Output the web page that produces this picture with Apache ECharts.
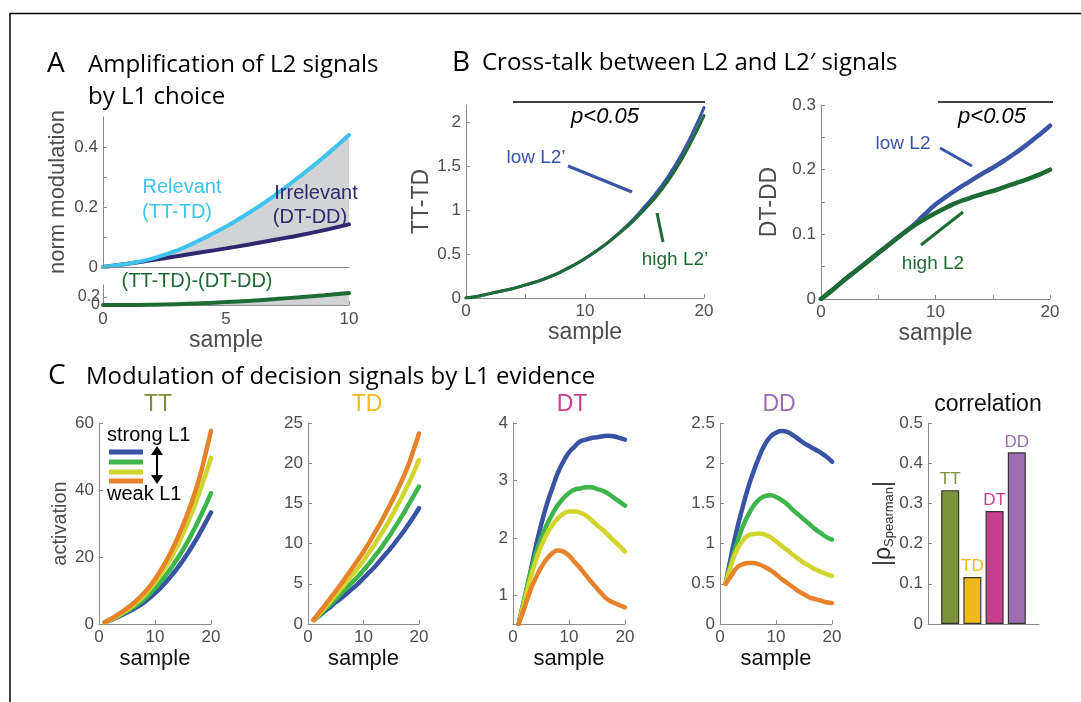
<!DOCTYPE html>
<html>
<head>
<meta charset="utf-8">
<script src="https://cdn.jsdelivr.net/npm/echarts@6/dist/echarts.min.js"></script>
<style>
html, body { margin: 0; padding: 0; background: #fff; }
#main { width: 1081px; height: 702px; }
</style>
</head>
<body>
<div id="main"></div>
<script>
// ---- panel A: amplification of L2 signals ----
var sampleA = [0, 1, 2, 3, 4, 5, 6, 7, 8, 9, 10];
var relevant = [0, 0.011, 0.028, 0.055, 0.092, 0.135, 0.184, 0.240, 0.302, 0.368, 0.440];
var irrelevant = [0, 0.011, 0.023, 0.036, 0.049, 0.062, 0.076, 0.091, 0.106, 0.123, 0.142];

// ---- panel B: cross-talk ----
var sampleB = [0, 1, 2, 3, 4, 5, 6, 7, 8, 9, 10, 11, 12, 13, 14, 15, 16, 17, 18, 19, 20];
var ttTdLowL2 = [0, 0.02, 0.05, 0.08, 0.11, 0.15, 0.19, 0.24, 0.30, 0.37, 0.45, 0.54, 0.64, 0.76, 0.89, 1.04, 1.20, 1.39, 1.61, 1.87, 2.17];
var ttTdHighL2 = [0, 0.02, 0.05, 0.08, 0.11, 0.15, 0.19, 0.24, 0.30, 0.37, 0.45, 0.54, 0.64, 0.75, 0.87, 1.01, 1.16, 1.34, 1.55, 1.80, 2.08];
var dtDdLowL2 = [0, 0.014, 0.029, 0.043, 0.057, 0.071, 0.085, 0.099, 0.113, 0.130, 0.146, 0.159, 0.171, 0.182, 0.193, 0.203, 0.214, 0.226, 0.239, 0.253, 0.268];
var dtDdHighL2 = [0, 0.014, 0.029, 0.043, 0.057, 0.071, 0.085, 0.099, 0.112, 0.123, 0.133, 0.142, 0.150, 0.156, 0.162, 0.167, 0.173, 0.179, 0.185, 0.192, 0.200];

// ---- panel C: activation by L1 evidence (strong -> weak) ----
var sampleC = [1, 2, 3, 4, 5, 6, 7, 8, 9, 10, 11, 12, 13, 14, 15, 16, 17, 18, 19, 20];
var ttStrong = [0.5, 1.1, 1.8, 2.6, 3.4, 4.3, 5.3, 6.4, 7.7, 9.2, 10.8, 12.6, 14.6, 16.7, 19.0, 21.5, 24.2, 27.1, 30.2, 33.3];
var ttMidStrong = [0.5, 1.2, 2.0, 2.9, 3.8, 4.9, 6.0, 7.3, 8.9, 10.7, 12.6, 14.7, 17.0, 19.5, 22.2, 25.1, 28.3, 31.7, 35.3, 39.1];
var ttMidWeak = [0.5, 1.2, 2.1, 3.1, 4.2, 5.4, 6.8, 8.4, 10.3, 12.4, 14.7, 17.3, 20.2, 23.4, 26.9, 30.8, 35.0, 39.6, 44.5, 49.6];
var ttWeak = [0.5, 1.4, 2.4, 3.5, 4.7, 6.0, 7.5, 9.2, 11.1, 13.4, 16.0, 18.8, 22.0, 25.6, 29.5, 33.8, 38.6, 44.0, 50.6, 57.7];

var tdStrong = [0.5, 1.0, 1.6, 2.1, 2.7, 3.2, 3.8, 4.4, 5.0, 5.7, 6.4, 7.1, 7.9, 8.7, 9.5, 10.4, 11.3, 12.3, 13.3, 14.4];
var tdMidStrong = [0.5, 1.1, 1.8, 2.4, 3.1, 3.8, 4.5, 5.2, 5.9, 6.7, 7.5, 8.4, 9.3, 10.3, 11.3, 12.4, 13.5, 14.7, 15.9, 17.1];
var tdMidWeak = [0.5, 1.2, 2.0, 2.8, 3.6, 4.4, 5.3, 6.1, 7.0, 7.9, 8.9, 9.9, 11.0, 12.1, 13.3, 14.6, 15.9, 17.3, 18.8, 20.4];
var tdWeak = [0.5, 1.4, 2.3, 3.2, 4.1, 5.0, 6.0, 7.0, 8.0, 9.0, 10.1, 11.3, 12.5, 13.8, 15.1, 16.5, 18.0, 19.6, 21.6, 23.7];

var dtStrong = [0.5, 0.91, 1.35, 1.82, 2.22, 2.57, 2.86, 3.13, 3.33, 3.49, 3.59, 3.68, 3.71, 3.74, 3.75, 3.77, 3.78, 3.77, 3.74, 3.71];
var dtMidStrong = [0.5, 0.93, 1.35, 1.70, 1.99, 2.22, 2.41, 2.57, 2.69, 2.78, 2.84, 2.86, 2.88, 2.88, 2.85, 2.82, 2.77, 2.70, 2.63, 2.56];
var dtMidWeak = [0.5, 0.88, 1.26, 1.58, 1.85, 2.06, 2.22, 2.34, 2.42, 2.46, 2.46, 2.44, 2.39, 2.31, 2.22, 2.14, 2.05, 1.95, 1.86, 1.76];
var dtWeak = [0.5, 0.77, 1.06, 1.29, 1.48, 1.63, 1.73, 1.78, 1.76, 1.69, 1.58, 1.47, 1.35, 1.23, 1.12, 1.01, 0.92, 0.87, 0.83, 0.79];

var ddStrong = [0.5, 0.85, 1.17, 1.44, 1.69, 1.90, 2.08, 2.23, 2.33, 2.38, 2.40, 2.39, 2.35, 2.30, 2.25, 2.21, 2.17, 2.13, 2.08, 2.02];
var ddMidStrong = [0.5, 0.77, 1.00, 1.20, 1.35, 1.47, 1.55, 1.59, 1.60, 1.58, 1.54, 1.49, 1.42, 1.36, 1.30, 1.24, 1.18, 1.13, 1.08, 1.05];
var ddMidWeak = [0.5, 0.73, 0.92, 1.03, 1.10, 1.12, 1.125, 1.11, 1.08, 1.03, 0.97, 0.92, 0.86, 0.81, 0.76, 0.72, 0.68, 0.65, 0.62, 0.60];
var ddWeak = [0.5, 0.60, 0.70, 0.74, 0.76, 0.76, 0.74, 0.71, 0.67, 0.62, 0.56, 0.51, 0.46, 0.41, 0.37, 0.33, 0.31, 0.29, 0.27, 0.26];

// ---- correlation bars ----
var corrCategories = ['TT', 'TD', 'DT', 'DD'];
var corrValues = [0.333, 0.117, 0.281, 0.427];

// ---- styles ----
var family = '"Liberation Sans", Arial, sans-serif';
var titleFamily = '"Open Sans", sans-serif';
var grey = '#8a8a8a';
var tickText = '#4d4d4d';
var levelColors = ['#3853a4', '#3db54a', '#d0d52b', '#e8822a'];
var catColors = ['#7b913a', '#f0ba1c', '#c83f8f', '#9c6db2'];
var lightBlue = '#3fc2f0', navy = '#2f2870', darkGreen = '#1e6b36', bBlue = '#3a55a6';
var bandGrey = '#d1d3d5';

function pairs(xs, ys) {
    return xs.map(function(x, i) { return [x, ys[i]]; });
}

function merge(a, b) {
    for (var k in b) {
        if (b[k] && typeof b[k] === 'object' && !Array.isArray(b[k]) && a[k] && typeof a[k] === 'object') {
            a[k] = merge(Object.assign({}, a[k]), b[k]);
        } else {
            a[k] = b[k];
        }
    }
    return a;
}

function axis(gridIndex, extra) {
    return merge({
        gridIndex: gridIndex,
        type: 'value',
        axisLine: { show: true, onZero: false, lineStyle: { color: grey, width: 1 } },
        axisTick: { show: true, inside: true, length: 4, lineStyle: { color: grey } },
        axisLabel: { color: tickText, fontSize: 17, fontFamily: family, margin: 5, showMinLabel: true, showMaxLabel: true },
        splitLine: { show: false },
        nameLocation: 'middle',
        nameTextStyle: { fontFamily: family, fontSize: 23, color: tickText }
    }, extra || {});
}

function line(idx, xs, ys, color, width, extra) {
    return merge({
        type: 'line',
        xAxisIndex: idx,
        yAxisIndex: idx,
        data: pairs(xs, ys),
        smooth: true,
        symbol: 'none',
        silent: true,
        lineStyle: { color: color, width: width, cap: 'round' }
    }, extra || {});
}

function txt(s, x, y, size, color, extra) {
    return {
        type: 'text', x: x, y: y, z: 100, silent: true,
        style: merge({
            text: s,
            font: size + 'px ' + family,
            fill: color,
            textAlign: 'center',
            textVerticalAlign: 'middle'
        }, extra || {})
    };
}

function seg(x1, y1, x2, y2, color, width) {
    return {
        type: 'line', silent: true, z: 100,
        shape: { x1: x1, y1: y1, x2: x2, y2: y2 },
        style: { stroke: color, lineWidth: width }
    };
}

var myChart = echarts.init(document.getElementById('main'), null, { renderer: 'canvas' });

var grids = [
    { left: 103, top: 117, width: 246, height: 150 },
    { left: 103, top: 285, width: 246, height: 20 },
    { left: 466, top: 105, width: 238, height: 193 },
    { left: 821, top: 105, width: 229, height: 194 },
    { left: 99, top: 423, width: 112, height: 201 },
    { left: 308, top: 423, width: 111, height: 201 },
    { left: 513, top: 423, width: 112, height: 201 },
    { left: 720, top: 423, width: 112, height: 201 },
    { left: 928, top: 423, width: 111, height: 201 }
];

var sampleNameC = { name: 'sample', nameGap: 24, nameTextStyle: { color: '#111', fontSize: 22 } };
var xEvery10 = { min: 0, max: 20, interval: 5, axisLabel: { formatter: function(v) { return v % 10 === 0 ? String(v) : ''; } } };

var xAxes = [
    axis(0, { min: 0, max: 10, z: 10, axisLabel: { show: false }, axisTick: { show: false } }),
    axis(1, { min: 0, max: 10, interval: 5, axisLabel: { margin: 6 }, name: 'sample', nameGap: 18 }),
    axis(2, merge({ name: 'sample', nameGap: 18 }, xEvery10)),
    axis(3, merge({ name: 'sample', nameGap: 18 }, xEvery10)),
    axis(4, merge({ min: 0, max: 20, interval: 10 }, sampleNameC)),
    axis(5, merge({ min: 0, max: 20, interval: 10 }, sampleNameC)),
    axis(6, merge({ min: 0, max: 20, interval: 10 }, sampleNameC)),
    axis(7, merge({ min: 0, max: 20, interval: 10 }, sampleNameC)),
    axis(8, { min: 0, max: 5, axisLabel: { show: false }, axisTick: { show: false } })
];

var yAxes = [
    axis(0, { min: 0, max: 0.5, z: 10, axisLabel: { customValues: [0, 0.2, 0.4] }, axisTick: { customValues: [0, 0.1, 0.2, 0.3, 0.4] },
        name: 'norm modulation', nameGap: 34, nameTextStyle: { fontSize: 22 } }),
    axis(1, { min: 0, max: 0.5, position: 'left', axisLabel: { customValues: [0], margin: 3, fontSize: 16 }, axisTick: { customValues: [0, 0.2] } }),
    axis(2, { min: 0, max: 2.2, axisLabel: { customValues: [0, 0.5, 1, 1.5, 2] }, axisTick: { customValues: [0, 0.5, 1, 1.5, 2] },
        name: 'TT-TD', nameGap: 32 }),
    axis(3, { min: 0, max: 0.3, axisLabel: { customValues: [0, 0.1, 0.2, 0.3] }, axisTick: { customValues: [0, 0.05, 0.1, 0.15, 0.2, 0.25, 0.3] },
        name: 'DT-DD', nameGap: 40 }),
    axis(4, { min: 0, max: 60, interval: 20, name: 'activation', nameGap: 29, nameTextStyle: { fontSize: 20 } }),
    axis(5, { min: 0, max: 25, interval: 5 }),
    axis(6, { min: 0.5, max: 4, axisLabel: { customValues: [1, 2, 3, 4] }, axisTick: { customValues: [1, 2, 3, 4] } }),
    axis(7, { min: 0, max: 2.5, interval: 0.5 }),
    axis(8, { min: 0, max: 0.5, interval: 0.1, name: '|ρ{s|Spearman}|', nameGap: 24,
        nameTextStyle: { fontSize: 23, color: '#333', rich: { s: { fontSize: 13, fontFamily: family, color: '#333', padding: [10, 0, 0, 0] } } } }),
    // second left axis on the small difference panel carrying only the 0.2 label (avoids label-overlap hiding)
    axis(1, { min: 0, max: 0.5, position: 'left', offset: 0, axisLine: { show: false }, axisTick: { show: false },
        axisLabel: { customValues: [0.2], margin: 3, fontSize: 16 } })
];

var series = [];

// panel A: grey band between relevant and irrelevant (grey under relevant, white under irrelevant)
series.push(line(0, sampleA, relevant, bandGrey, 0, { z: 2, lineStyle: { opacity: 0 }, areaStyle: { color: bandGrey, opacity: 1 } }));
series.push(line(0, sampleA, irrelevant, '#fff', 0, { z: 3, lineStyle: { opacity: 0 }, areaStyle: { color: '#fff', opacity: 1 } }));
series.push(line(0, sampleA, irrelevant, navy, 4, { z: 4 }));
series.push(line(0, sampleA, relevant, lightBlue, 4, { z: 5 }));
series.push(line(1, sampleA, relevant.map(function(v, i) { return v - irrelevant[i]; }), darkGreen, 4,
    { areaStyle: { color: bandGrey, opacity: 1 } }));

// panel B
series.push(line(2, sampleB, ttTdLowL2, bBlue, 3));
series.push(line(2, sampleB, ttTdHighL2, darkGreen, 3));
series.push(line(3, sampleB, dtDdLowL2, bBlue, 4.5));
series.push(line(3, sampleB, dtDdHighL2, darkGreen, 4.5));

// panel C
[[ttStrong, ttMidStrong, ttMidWeak, ttWeak],
 [tdStrong, tdMidStrong, tdMidWeak, tdWeak],
 [dtStrong, dtMidStrong, dtMidWeak, dtWeak],
 [ddStrong, ddMidStrong, ddMidWeak, ddWeak]].forEach(function(group, g) {
    group.forEach(function(ys, k) {
        series.push(line(4 + g, sampleC, ys, levelColors[k], 4.5, { z: 2 + k }));
    });
});

series.push({
    type: 'bar',
    xAxisIndex: 8,
    yAxisIndex: 8,
    barWidth: 18,
    silent: true,
    data: corrValues.map(function(v, i) {
        return {
            value: [i + 1, v],
            itemStyle: { color: catColors[i], borderColor: '#333', borderWidth: 1.2 },
            label: { color: catColors[i] }
        };
    }),
    label: {
        show: true, position: 'top', distance: 2, fontSize: 17, fontFamily: family,
        formatter: function(p) { return corrCategories[p.dataIndex]; }
    }
});

var graphics = [
    { type: 'polyline', silent: true, shape: { points: [[10, 702], [10, 13.5], [1081, 13.5]] }, style: { stroke: '#000', lineWidth: 1.5, fill: null } },

    // titles
    txt('A', 47, 64, 28, '#000', { font: '28px ' + titleFamily, textAlign: 'left' }),
    txt('Amplification of L2 signals', 88, 65, 24, '#000', { font: '24px ' + titleFamily, textAlign: 'left' }),
    txt('by L1 choice', 88, 97, 24, '#000', { font: '24px ' + titleFamily, textAlign: 'left' }),
    txt('B', 452, 63, 28, '#000', { font: '28px ' + titleFamily, textAlign: 'left' }),
    txt('Cross-talk between L2 and L2\u2032 signals', 482, 63, 24, '#000', { font: '24px ' + titleFamily, textAlign: 'left' }),
    txt('C', 48, 376, 28, '#000', { font: '28px ' + titleFamily, textAlign: 'left' }),
    txt('Modulation of decision signals by L1 evidence', 86, 377, 24, '#000', { font: '24px ' + titleFamily, textAlign: 'left' }),

    // panel A annotations
    txt('Relevant', 182, 187, 20, lightBlue),
    txt('(TT-TD)', 177, 212, 20, lightBlue),
    txt('Irrelevant', 316, 193, 20, navy),
    txt('(DT-DD)', 310, 217, 20, navy),
    txt('(TT-TD)-(DT-DD)', 197, 281, 20, darkGreen),

    // panel B annotations
    seg(513, 102, 705, 102, '#404040', 2),
    txt('p<0.05', 605, 117, 22, '#000', { font: 'italic 22px ' + family }),
    txt('low L2\u2019', 536, 158, 19, bBlue),
    seg(568, 166, 632, 192, bBlue, 3),
    txt('high L2\u2019', 675, 260, 19, darkGreen),
    seg(657, 213, 663, 242, darkGreen, 3),

    seg(938, 102, 1053, 102, '#404040', 2),
    txt('p<0.05', 992, 117, 22, '#000', { font: 'italic 22px ' + family }),
    txt('low L2', 903, 144, 19, bBlue),
    seg(940, 148, 972, 166, bBlue, 3),
    txt('high L2', 933, 264, 19, darkGreen),
    seg(921, 245, 963, 212, darkGreen, 3),

    // panel C titles
    txt('TT', 158, 405, 23, catColors[0]),
    txt('TD', 367, 405, 23, catColors[1]),
    txt('DT', 572, 405, 23, catColors[2]),
    txt('DD', 779, 405, 23, catColors[3]),
    txt('correlation', 988, 405, 23, '#111'),

    // TT legend
    txt('strong L1', 107, 435, 20, '#000', { textAlign: 'left' }),
    txt('weak L1', 107, 494, 20, '#000', { textAlign: 'left' }),
    seg(109, 452, 143, 452, levelColors[0], 5),
    seg(109, 462, 143, 462, levelColors[1], 5),
    seg(109, 472, 143, 472, levelColors[2], 5),
    seg(109, 481, 143, 481, levelColors[3], 5),
    seg(157, 452, 157, 478, '#000', 2),
    { type: 'polygon', silent: true, z: 100, shape: { points: [[151, 455], [163, 455], [157, 446]] }, style: { fill: '#000' } },
    { type: 'polygon', silent: true, z: 100, shape: { points: [[151, 475], [163, 475], [157, 484]] }, style: { fill: '#000' } }
];

var option = {
    backgroundColor: '#fff',
    animation: false,
    grid: grids,
    xAxis: xAxes,
    yAxis: yAxes,
    series: series,
    graphic: graphics
};

myChart.setOption(option);
</script>
</body>
</html>
